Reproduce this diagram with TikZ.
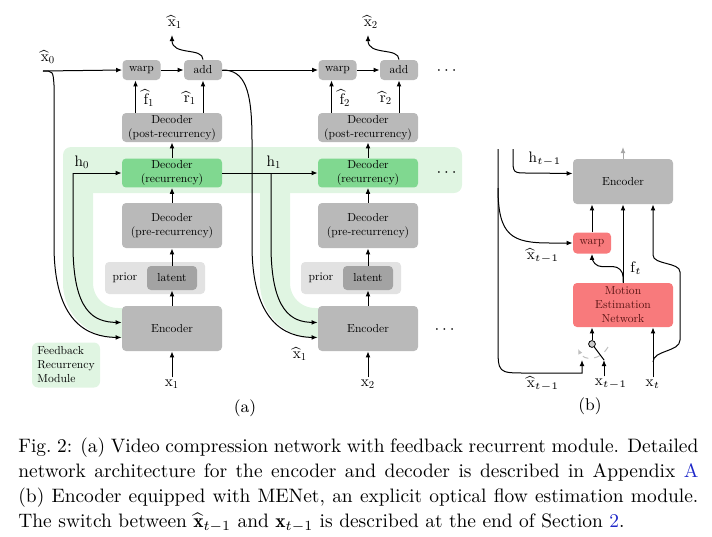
\documentclass[tikz,border=0pt]{standalone}
\usepackage{amsmath}
\usepackage{fontspec}
\usetikzlibrary{
  positioning,
  backgrounds,
  arrows.meta,
  calc
}
\newfontfamily\lmten{lmroman10-regular.otf}

\definecolor{boxgray}{RGB}{185,185,185}
\definecolor{latentgray}{RGB}{163,163,163}
\definecolor{priorgray}{RGB}{226,226,226}
\definecolor{recgreen}{RGB}{128,216,144}
\definecolor{bandgreen}{RGB}{224,245,226}
\definecolor{menred}{RGB}{248,122,124}
\definecolor{menredtext}{RGB}{90,20,20}
\definecolor{linkblue}{RGB}{30,40,200}

\newcommand{\diagfont}{\lmten\fontsize{5.8}{7}\selectfont}
\newcommand{\labfont}{\lmten\fontsize{7.6}{8.5}\selectfont}

\begin{document}
\begin{tikzpicture}[
  x=0.5pt, y=-0.5pt,
  >={Latex[length=3pt,width=2.4pt]},
  block/.style={
    rectangle,
    rounded corners=2pt,
    fill=boxgray,
    align=center,
    font=\diagfont,
    inner sep=1pt
  },
  opbox/.style={block, minimum width=19pt, minimum height=10pt},
  decbox/.style={block, minimum width=50pt, minimum height=14.5pt},
  tallbox/.style={block, minimum width=50pt, minimum height=22.5pt},
  recbox/.style={decbox, fill=recgreen, minimum height=14pt},
  latentbox/.style={block, fill=latentgray, minimum width=25pt, minimum height=12pt},
  priorbox/.style={block, fill=priorgray, minimum width=50pt, minimum height=16pt},
  redbox/.style={block, fill=menred, text=menredtext},
  flow/.style={->, line width=0.5pt},
  wire/.style={line width=0.5pt},
  lab/.style={font=\labfont, inner sep=1pt},
  band/.style={draw=bandgreen, line width=15pt}
]
\useasboundingbox (0,0) rectangle (712,536);

% ------------------------------------------------------------------
% Column anchors
% ------------------------------------------------------------------
\coordinate (col1) at (172,0);
\coordinate (col2) at (368,0);

% ------------------------------------------------------------------
% Column 1
% ------------------------------------------------------------------
\node[opbox] (warp1) at ($(col1)+(-30.5,70)$) {warp};
\node[opbox] (add1) at ($(col1)+(31,70)$) {add};
\node[decbox] (post1) at ($(col1)+(0,127.5)$) {Decoder\\(post-recurrency)};
\node[recbox] (rec1) at ($(col1)+(0,173)$) {Decoder\\(recurrency)};
\node[tallbox] (pre1) at ($(col1)+(0,225.5)$) {Decoder\\(pre-recurrency)};
\node[priorbox] (prior1) at ($(col1)+(-17,278)$) {};
\node[font=\diagfont] (prior1txt) at ($(col1)+(-47,278)$) {prior};
\node[latentbox] (latent1) at ($(col1)+(0,278)$) {latent};
\node[tallbox] (enc1) at ($(col1)+(0,328.5)$) {Encoder};

\node[lab] (x1in) at ($(col1)+(0,384)$) {$\text{x}_{\text{1}}$};
\node[lab] (x1out) at ($(col1)+(3,22)$) {$\widehat{\text{x}}_{\text{1}}$};
\coordinate (x1tip) at ($(col1)+(0,35)$);
\node[lab] (f1) at ($(col1)+(-23,98)$) {$\widehat{\text{f}}_{\text{1}}$};
\node[lab] (r1) at ($(col1)+(18,98)$) {$\widehat{\text{r}}_{\text{1}}$};

\draw[flow] (warp1) -- (add1);
\draw[flow] (x1in) -- (enc1);
\draw[flow] (enc1) -- (latent1);
\draw[flow] (latent1) -- (pre1);
\draw[flow] (pre1) -- (rec1);
\draw[flow] (rec1) -- (post1);
\draw[flow] ([xshift=-3pt]warp1.south |- post1.north) -- ([xshift=-3pt]warp1.south);
\draw[flow] (add1.south |- post1.north) -- (add1.south);
\draw[flow] (add1.north) .. controls (203,47) and (172,56) .. (x1tip);

% initial inputs
\node[lab] (x0lbl) at (48,57) {$\widehat{\text{x}}_{\text{0}}$};
\coordinate (x0start) at (43,71);
\node[lab] (h0lbl) at (82,162) {$\text{h}_{\text{0}}$};
\coordinate (h0) at (73,173);

\draw[flow] (x0start) -- (warp1.west);
\draw[flow] (x0start) .. controls (53,71) .. (54,85) -- (54,245)
  .. controls (54,322) and (87,337) .. ($(enc1.west)+(0,9)$);
\draw[flow] (h0) -- (rec1.west);
\draw[flow] (h0) -- (73,245)
  .. controls (73,312) and (94,322) .. ($(enc1.west)+(0,-6)$);

% ------------------------------------------------------------------
% Column 2
% ------------------------------------------------------------------
\node[opbox] (warp2) at ($(col2)+(-30.5,70)$) {warp};
\node[opbox] (add2) at ($(col2)+(31,70)$) {add};
\node[decbox] (post2) at ($(col2)+(0,127.5)$) {Decoder\\(post-recurrency)};
\node[recbox] (rec2) at ($(col2)+(0,173)$) {Decoder\\(recurrency)};
\node[tallbox] (pre2) at ($(col2)+(0,225.5)$) {Decoder\\(pre-recurrency)};
\node[priorbox] (prior2) at ($(col2)+(-17,278)$) {};
\node[font=\diagfont] (prior2txt) at ($(col2)+(-47,278)$) {prior};
\node[latentbox] (latent2) at ($(col2)+(0,278)$) {latent};
\node[tallbox] (enc2) at ($(col2)+(0,328.5)$) {Encoder};

\node[lab] (x2in) at ($(col2)+(0,384)$) {$\text{x}_{\text{2}}$};
\node[lab] (x2out) at ($(col2)+(3,22)$) {$\widehat{\text{x}}_{\text{2}}$};
\coordinate (x2tip) at ($(col2)+(0,35)$);
\node[lab] (f2) at ($(col2)+(-23,98)$) {$\widehat{\text{f}}_{\text{2}}$};
\node[lab] (r2) at ($(col2)+(18,98)$) {$\widehat{\text{r}}_{\text{2}}$};

\draw[flow] (warp2) -- (add2);
\draw[flow] (x2in) -- (enc2);
\draw[flow] (enc2) -- (latent2);
\draw[flow] (latent2) -- (pre2);
\draw[flow] (pre2) -- (rec2);
\draw[flow] (rec2) -- (post2);
\draw[flow] ([xshift=-3pt]warp2.south |- post2.north) -- ([xshift=-3pt]warp2.south);
\draw[flow] (add2.south |- post2.north) -- (add2.south);
\draw[flow] (add2.north) .. controls (399,47) and (368,56) .. (x2tip);

% hand-over from column 1
\node[lab] (h1lbl) at (274,162) {$\text{h}_{\text{1}}$};
\coordinate (h1) at (271,173);
\node[lab] (x1hatlbl) at (300,354) {$\widehat{\text{x}}_{\text{1}}$};

\draw[flow] (add1) -- (warp2);
\draw[flow] (rec1) -- (rec2);
\draw[flow] (add1.east) .. controls (245,70) and (252,90) .. (252,140) -- (252,245)
  .. controls (252,322) and (285,337) .. ($(enc2.west)+(0,9)$);
\draw[flow] (h1) -- (271,245)
  .. controls (271,312) and (292,322) .. ($(enc2.west)+(0,-6)$);

% continuation
\node[lab] (dots1) at (448,71) {$\cdots$};
\node[lab] (dots2) at (448,173) {$\cdots$};
\node[lab] (dots3) at (446,330) {$\cdots$};

% ------------------------------------------------------------------
% Feedback recurrency band
% ------------------------------------------------------------------
\begin{scope}[on background layer]
  \fill[bandgreen, rounded corners=4pt] (63,147) rectangle (462,193);
  \draw[band, rounded corners=20pt] (78,165) -- (78,323) -- (140,323);
  \draw[band, rounded corners=20pt] (275,165) -- (275,323) -- (336,323);
\end{scope}

\node[block, fill=bandgreen, rounded corners=3pt, minimum width=34pt,
      minimum height=22.5pt, align=left] (fbm) at (66,365)
  {Feedback\\Recurrency\\Module};

\node[font=\fontsize{8.5}{10}\selectfont, inner sep=0pt] (pa) at (245,408) {(a)};

% ------------------------------------------------------------------
% Panel (b): encoder with MENet
% ------------------------------------------------------------------
\node[tallbox] (encb) at (623,181.5) {Encoder};
\node[redbox, minimum width=19pt, minimum height=10.5pt] (warpb) at (592,243) {warp};
\node[redbox, minimum width=50pt, minimum height=22pt] (men) at (623,305)
  {Motion\\Estimation\\Network};
\coordinate (encbout) at (623,147);

\node[lab] (hlbl) at (545,159) {$\text{h}_{t-1}$};
\coordinate (htop) at (513,149);
\node[lab] (xbhatmid) at (543,256) {$\widehat{\text{x}}_{t-1}$};
\coordinate (xbtop) at (498,149);
\coordinate (xbsplit) at (498,188);
\node[lab] (ftlbl) at (636,268) {$\text{f}_t$};

\node[lab] (xbhat) at (543,384) {$\widehat{\text{x}}_{t-1}$};
\node[lab] (xprev) at (611,384) {$\text{x}_{t-1}$};
\node[lab] (xt) at (653,384) {$\text{x}_t$};

% switch
\node[circle, draw, fill=gray!40, inner sep=0pt, minimum size=3.4pt,
      line width=0.4pt] (swc) at (592,344) {};
\coordinate (swl) at (582,360);
\coordinate (swr) at (604,360);
\coordinate (xtsplit) at (653,362);

\draw[flow, gray!70] (encb) -- (encbout);
\draw[flow] (htop) -- (513,158) .. controls (513,173) .. (528,173)
  -- ($(encb.west)+(0,-8)$);
\draw[flow] (xbtop) -- (498,345) .. controls (498,373) .. (526,373)
  -- (swl |- 0,373) -- (swl);
\draw[flow] (xbsplit) .. controls (498,236) and (512,243) .. (550,243) -- (warpb.west);
\draw[flow] (warpb) -- (warpb |- encb.south);
\draw[flow] (men) -- (encb);
\draw[flow, rounded corners=5pt] (men.north) -- ++(0,-16) -| (warpb.south);
\draw[flow] (xt) -- (xt |- men.south);
\draw[flow] (xtsplit) .. controls (653,350) and (680,352) .. (680,340) -- (680,272)
  .. controls (680,262) and (653,265) .. (653,255) -- (xtsplit |- encb.south);
\draw[flow] (swc) -- (swc |- men.south);
\draw[wire] (swc) -- (swr);
\draw[flow] (swr |- xprev.north) -- (swr);
\draw[gray!50, dashed, line width=0.5pt, -{Latex[length=2.6pt,width=2.2pt]}]
  (608,347) .. controls (600,361) and (584,361) .. (578,349);

\node[font=\fontsize{8.5}{10}\selectfont, inner sep=0pt] (pb) at (590,406) {(b)};

% ------------------------------------------------------------------
% Caption
% ------------------------------------------------------------------
\node[anchor=north west, inner sep=0pt, text width=340pt, align=justify,
      font=\fontsize{9.72}{12.4}\selectfont] (caption) at (18,438)
  {Fig.~2: (a) Video compression network with feedback recurrent module. Detailed\linebreak
   network architecture for the encoder and decoder is described in Appendix {\color{linkblue}A}\linebreak
   (b) Encoder equipped with MENet, an explicit optical flow estimation module.\linebreak
   The switch between $\widehat{\mathbf{x}}_{t-1}$ and $\mathbf{x}_{t-1}$ is described at the end of Section~{\color{linkblue}2}.};

\end{tikzpicture}
\end{document}
